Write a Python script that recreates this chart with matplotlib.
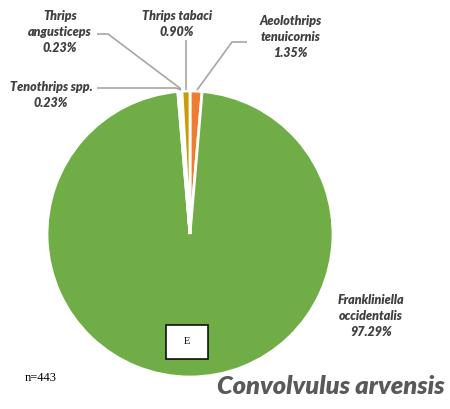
import matplotlib
matplotlib.use("Agg")
import matplotlib.pyplot as plt
from matplotlib.patches import Rectangle

species = ['Aeolothrips\ntenuicornis', 'Frankliniella\noccidentalis',
           'Tenothrips spp.', 'Thrips\nangusticeps', 'Thrips tabaci']
pcts = [1.35, 97.29, 0.23, 0.23, 0.90]
colors = ['#ED7D31', '#70AD47', '#FFFFFF', '#FFFFFF', '#CC9A06']
title = 'Convolvulus arvensis'
n_label = 'n=443'
box_label = 'E'

W, H = 450, 409
fig = plt.figure(figsize=(W / 100, H / 100), dpi=100)
ax = fig.add_axes([0, 0, 1, 1])

def Y(y):
    return H - y

ax.pie(pcts, colors=colors, startangle=90, counterclock=False,
       center=(190, Y(234)), radius=143,
       wedgeprops=dict(edgecolor='white', linewidth=2))
ax.set_xlim(0, W)
ax.set_ylim(0, H)
ax.set_aspect('auto')
ax.axis('off')

lab_font = dict(family=['Lato', 'DejaVu Sans'], fontsize=9, fontweight='heavy',
                fontstyle='italic', color='#404040', ha='center', va='center',
                linespacing=1.42)

# label positions (pixel coords)
label_pos = {
    0: (291, 37),
    1: (371, 316),
    2: (51, 95),
    3: (60, 32),
    4: (177, 24),
}
for i, (x, y) in label_pos.items():
    ax.text(x, Y(y), f"{species[i]}\n{pcts[i]:.2f}%", **lab_font)

# leader lines
lc = dict(color='#A6A6A6', lw=1.2, solid_capstyle='butt')
ax.plot([97, 108, 181], [Y(34), Y(34), Y(89)], **lc)
ax.plot([186, 186], [Y(40), Y(90)], **lc)
ax.plot([247, 232, 197], [Y(42), Y(42), Y(90)], **lc)
ax.plot([97, 176, 181], [Y(88), Y(88), Y(90)], **lc)

# box with E
ax.add_patch(Rectangle((166, Y(359)), 42, 34, facecolor='white',
                       edgecolor='black', lw=1.1, zorder=5))
ax.text(187, Y(342), box_label, family='Liberation Serif', fontsize=7.5,
        ha='center', va='center', zorder=6)

ax.text(25, Y(378), n_label, family='Liberation Serif', fontsize=9,
        ha='left', va='center')

ax.text(331, Y(387), title, family=['Lato', 'DejaVu Sans'], fontsize=18.3,
        fontweight='heavy', fontstyle='italic', color='#595959',
        ha='center', va='center')

fig.savefig('out.png', dpi=100)
